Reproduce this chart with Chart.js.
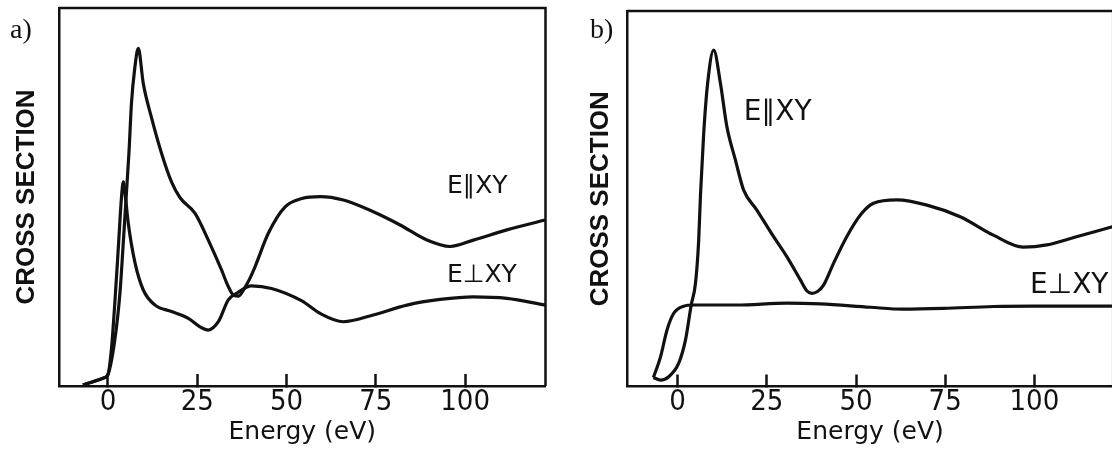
<!DOCTYPE html>
<html>
<head>
<meta charset="utf-8">
<script src="https://cdn.jsdelivr.net/npm/chart.js@4.4.1/dist/chart.umd.min.js"></script>
<style>
  html, body { margin: 0; padding: 0; background: #fff; overflow: hidden; }
  body { width: 1112px; height: 450px; position: relative; }
  .panel { position: absolute; top: 0; }
</style>
</head>
<body>
<div class="panel" style="left:0"><canvas id="chartA" width="556" height="450"></canvas></div>
<div class="panel" style="left:556px"><canvas id="chartB" width="574" height="450"></canvas></div>
<script>
const xTicks = [0, 25, 50, 75, 100];

// a) E || XY
const energyParA = [-7, -4, -1, 0, 1.9, 3.4, 4.3, 5.1, 5.9, 6.6, 7.5, 8.5, 9.9, 12.2, 15, 17.8, 20.2, 24.4, 28.1, 31.8, 33.6, 35.2, 36.6, 38, 39.5, 41.2, 44.9, 49.6, 54.3, 59.4, 65.9, 74.3, 81.8, 89.3, 95.8, 102.3, 111.7, 122.4];
const sigmaParA  = [0.3, 1.2, 2.2, 3, 12, 25, 38, 50, 62, 75, 84, 89.3, 80, 71, 61.6, 54, 49.8, 45.7, 38.6, 30.7, 26.5, 24, 23.8, 25.5, 28, 31.6, 40.4, 47.4, 49.6, 50.1, 49.2, 46.1, 42.6, 38.6, 36.9, 38.6, 41.3, 43.9];
// a) E ⊥ XY
const energyPerpA = [-7, -4, -1, 0, 1, 2, 3, 3.8, 4.3, 4.9, 5.7, 7.6, 9.9, 13.2, 17.8, 22.5, 26, 28.1, 30.9, 33.7, 36, 40.2, 45.8, 54.3, 59.4, 65.9, 74.3, 83.7, 93, 102.3, 111.7, 122.4];
const sigmaPerpA  = [0.3, 1.2, 2.2, 3, 10, 23, 38, 50, 54, 50, 43, 32.5, 25.4, 21.4, 19.7, 17.9, 15.5, 14.8, 17, 22.8, 24.5, 26.5, 25.8, 22.5, 19.2, 17, 18.8, 21.4, 22.9, 23.6, 23.2, 21.4];

// b) E || XY
const energyParB = [-6.8, -4.8, -2.5, 0.3, 2.2, 3.8, 5, 5.9, 6.4, 7.3, 8.4, 10.1, 12, 13.8, 16.2, 18.5, 22.2, 26.9, 30.6, 34.4, 36.2, 37.6, 39.2, 40.9, 43.7, 47.4, 51.5, 54.9, 61.5, 69.9, 79.2, 88.5, 96.9, 103.5, 111.8, 122.1];
const sigmaParB  = [2.4, 1.7, 2.6, 6.2, 12.4, 21.7, 27.5, 39, 51, 67.4, 80.7, 89.6, 80.7, 69.2, 60.3, 52.3, 47, 39.9, 34.6, 28.4, 25.5, 24.8, 25.3, 27, 32.8, 39.9, 46, 48.8, 49.7, 48.3, 45.2, 40.3, 37.1, 37.7, 39.9, 42.6];
// b) E ⊥ XY
const energyPerpB = [-6.8, -4.8, -3, -1.1, 1.7, 4.5, 16.6, 30.6, 40, 54, 63.3, 74.5, 88.5, 99.7, 122.1];
const sigmaPerpB  = [2.4, 7.9, 15, 19.5, 21.4, 21.7, 21.7, 22.2, 22, 21.1, 20.6, 20.8, 21.3, 21.4, 21.4];

// curve names and their anchors (data units, left end / baseline)
const namesA = ['E\u2225XY', 'E\u22A5XY'];
const nameXA = [94.9, 94.9];
const nameYA = [51, 27.6];
const namesB = ['E\u2225XY', 'E\u22A5XY'];
const nameXB = [18.5, 98.8];
const nameYB = [71, 24.8];

const INK = '#111';

function toPoints(xs, ys) {
    return xs.map((x, i) => ({ x: x, y: ys[i] }));
}

const frameAndNames = {
    id: 'frameAndNames',
    afterDraw(chart, args, opts) {
        const { ctx, chartArea: a, scales } = chart;
        const sx = scales.x, sy = scales.y;
        ctx.save();
        ctx.strokeStyle = INK;
        ctx.lineWidth = 2.5;
        ctx.beginPath();
        ctx.moveTo(a.left, a.top);
        ctx.lineTo(a.right, a.top);
        ctx.lineTo(a.right, a.bottom);
        ctx.stroke();

        ctx.fillStyle = INK;
        ctx.textAlign = 'left';
        ctx.textBaseline = 'alphabetic';
        ctx.font = opts.nameSize + 'px "DejaVu Sans"';
        opts.names.forEach((n, i) => {
            ctx.fillText(n, sx.getPixelForValue(opts.nameX[i]), sy.getPixelForValue(opts.nameY[i]));
        });

        ctx.font = '28px "Liberation Serif"';
        ctx.fillText(opts.letter, opts.letterAt[0], opts.letterAt[1]);
        ctx.restore();
    }
};

function makePanel(id, p) {
    new Chart(document.getElementById(id), {
        type: 'line',
        data: {
            datasets: [
                { data: toPoints(p.parX, p.parY) },
                { data: toPoints(p.perpX, p.perpY) }
            ]
        },
        options: {
            responsive: false,
            animation: false,
            events: [],
            layout: { padding: { top: p.padTop, right: p.padRight, left: 0, bottom: 0 } },
            elements: {
                line: { borderColor: INK, borderWidth: 3.2, cubicInterpolationMode: 'monotone', fill: false },
                point: { radius: 0 }
            },
            plugins: {
                legend: { display: false },
                tooltip: { enabled: false },
                frameAndNames: {
                    names: p.names, nameX: p.nameX, nameY: p.nameY,
                    nameSize: p.nameSize, letter: p.letter, letterAt: p.letterAt
                }
            },
            scales: {
                x: {
                    type: 'linear',
                    min: p.xMin,
                    max: p.xMax,
                    afterBuildTicks: s => { s.ticks = xTicks.map(v => ({ value: v })); },
                    afterFit: s => { s.height = p.xAxisH; },
                    // negative tick length turns the marks inward
                    grid: {
                        display: true,
                        drawOnChartArea: false,
                        drawTicks: true,
                        tickLength: -12,
                        tickColor: INK,
                        tickWidth: 2.5
                    },
                    border: { display: true, color: INK, width: 2.5 },
                    ticks: {
                        color: INK,
                        padding: 11,
                        maxRotation: 0,
                        autoSkip: false,
                        font: { family: '"Liberation Sans Narrow", "DejaVu Sans Condensed", "Liberation Sans"', size: 29 }
                    },
                    title: {
                        display: true,
                        text: 'Energy (eV)',
                        color: INK,
                        font: { family: '"DejaVu Sans"', size: 25 },
                        padding: { top: 0, bottom: 3 }
                    }
                },
                y: {
                    min: 0,
                    max: 100,
                    afterFit: s => { s.width = p.yAxisW; },
                    grid: { display: false },
                    border: { display: true, color: INK, width: 2.5 },
                    ticks: { display: false },
                    title: {
                        display: true,
                        text: 'CROSS SECTION',
                        color: INK,
                        font: { family: '"Liberation Sans"', size: 26, weight: 'bold' },
                        padding: { top: p.yTitlePad, bottom: 0 }
                    }
                }
            }
        },
        plugins: [frameAndNames]
    });
}

makePanel('chartA', {
    parX: energyParA, parY: sigmaParA, perpX: energyPerpA, perpY: sigmaPerpA,
    names: namesA, nameX: nameXA, nameY: nameYA, nameSize: 25,
    letter: 'a)', letterAt: [10, 38],
    xMin: -13.7, xMax: 122.5,
    padTop: 8, padRight: 10.5, xAxisH: 64, yAxisW: 59, yTitlePad: 11
});

makePanel('chartB', {
    parX: energyParB, parY: sigmaParB, perpX: energyPerpB, perpY: sigmaPerpB,
    names: namesB, nameX: nameXB, nameY: nameYB, nameSize: 28,
    letter: 'b)', letterAt: [34, 38],
    xMin: -14.2, xMax: 122.1,
    padTop: 11, padRight: 16.8, xAxisH: 63.5, yAxisW: 71, yTitlePad: 29
});
</script>
</body>
</html>
